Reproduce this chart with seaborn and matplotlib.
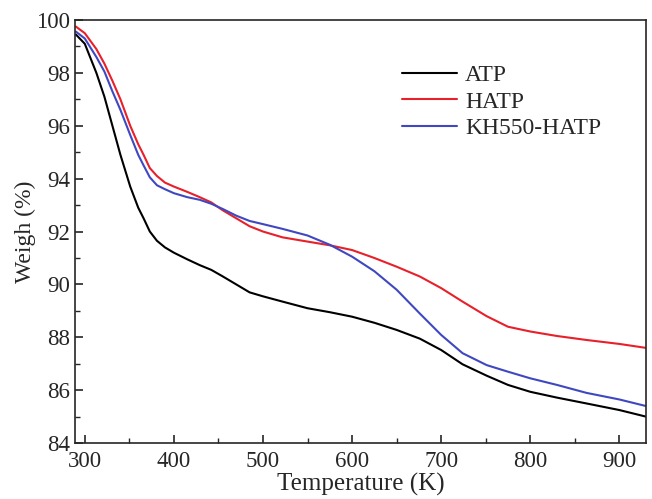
import matplotlib
matplotlib.use("Agg")
import matplotlib.pyplot as plt
import seaborn as sns
import pandas as pd
from matplotlib.ticker import MultipleLocator

temperature = [290, 300, 313, 322, 331, 340, 351, 360, 366, 373, 381, 390, 400, 415, 429, 442,
               455, 470, 485, 500, 522, 550, 575, 600, 625, 650, 676, 700, 724, 751, 775, 800,
               830, 863, 900, 930]
atp = [99.45, 99.1, 98.0, 97.1, 96.0, 94.9, 93.7, 92.9, 92.5, 92.0, 91.65, 91.4, 91.2, 90.95, 90.73, 90.55,
       90.3, 90.0, 89.7, 89.55, 89.35, 89.1, 88.95, 88.78, 88.55, 88.28, 87.95, 87.52, 86.98, 86.55, 86.2, 85.94,
       85.72, 85.5, 85.25, 85.0]
hatp = [99.75, 99.5, 98.9, 98.35, 97.7, 97.0, 96.0, 95.3, 94.9, 94.4, 94.1, 93.85, 93.7, 93.5, 93.3, 93.1,
        92.8, 92.5, 92.2, 92.0, 91.78, 91.62, 91.48, 91.3, 91.0, 90.67, 90.3, 89.86, 89.35, 88.8, 88.4, 88.22,
        88.05, 87.9, 87.75, 87.6]
kh550 = [99.56, 99.3, 98.6, 98.05, 97.3, 96.6, 95.65, 94.9, 94.5, 94.05, 93.75, 93.6, 93.45, 93.3, 93.2, 93.05,
         92.85, 92.6, 92.4, 92.28, 92.1, 91.85, 91.5, 91.05, 90.5, 89.8, 88.9, 88.09, 87.4, 86.95, 86.7, 86.45,
         86.2, 85.9, 85.65, 85.4]
series_names = ["ATP", "HATP", "KH550-HATP"]
colors = ["#000000", "#e8202a", "#3f48c0"]

df = pd.concat([
    pd.DataFrame({"T": temperature, "W": vals, "Sample": name})
    for name, vals in zip(series_names, [atp, hatp, kh550])
])

sns.set_style("ticks")
plt.rcParams["font.family"] = ["Liberation Serif", "DejaVu Serif"]

fig = plt.figure(figsize=(6.52, 4.99), dpi=100)
ax = fig.add_axes([0.115, 0.112, 0.876, 0.848])
sns.lineplot(data=df, x="T", y="W", hue="Sample", palette=dict(zip(series_names, colors)),
             linewidth=1.5, ax=ax, sort=False, estimator=None)

ax.set_xlim(289, 930)
ax.set_ylim(84, 100)
ax.xaxis.set_major_locator(MultipleLocator(100))
ax.xaxis.set_minor_locator(MultipleLocator(50))
ax.yaxis.set_major_locator(MultipleLocator(2))
ax.yaxis.set_minor_locator(MultipleLocator(1))
ax.tick_params(which="both", direction="in", top=False, right=False, labelsize=16.5)
ax.tick_params(axis="x", which="major", pad=6)
ax.tick_params(which="major", length=6, width=1.2)
ax.tick_params(which="minor", length=3.5, width=1.0)
for s in ax.spines.values():
    s.set_linewidth(1.2)
ax.set_xlabel("Temperature (K)", fontsize=18, labelpad=0)
ax.set_ylabel("Weigh (%)", fontsize=17, labelpad=0)

leg = ax.legend(frameon=False, fontsize=17, loc="upper left", bbox_to_anchor=(0.536, 0.945),
                handlelength=2.3, handletextpad=0.35, labelspacing=0.22)

fig.savefig("out.png", dpi=100)
